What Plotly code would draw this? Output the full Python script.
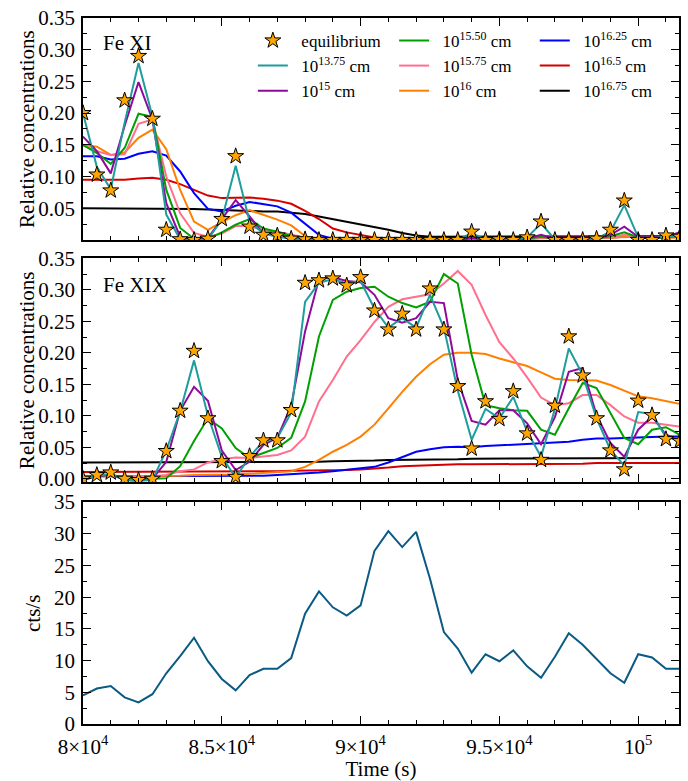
import plotly.graph_objects as go

# Time grid (s)
time_s = list(range(80000, 102000, 500))

# ---- Fe XI relative concentrations ----
fe11_equilibrium = [0.200, 0.103, 0.078, 0.220, 0.290, 0.191, 0.016, 0.001, 0.000, 0.002,
                    0.033, 0.132, 0.021, 0.008, 0.007, 0.002, 0.001, 0.000, 0.000, 0.000,
                    0.000, 0.000, 0.000, 0.000, 0.000, 0.000, 0.000, 0.000, 0.013, 0.000,
                    0.001, 0.000, 0.004, 0.029, 0.000, 0.000, 0.000, 0.002, 0.016, 0.062,
                    0.000, 0.000, 0.007, 0.005]
fe11_13p75 = [0.200, 0.115, 0.080, 0.185, 0.279, 0.195, 0.040, 0.001, 0.000, 0.001,
              0.032, 0.117, 0.029, 0.010, 0.005, 0.002, 0.001, 0.000, 0.000, 0.000,
              0.000, 0.000, 0.000, 0.000, 0.000, 0.000, 0.000, 0.000, 0.011, 0.001,
              0.001, 0.000, 0.004, 0.026, 0.001, 0.000, 0.000, 0.002, 0.013, 0.055,
              0.004, 0.002, 0.006, 0.005]
fe11_15 = [0.163, 0.140, 0.105, 0.180, 0.249, 0.190, 0.058, 0.005, 0.000, 0.003,
           0.033, 0.063, 0.037, 0.010, 0.008, 0.004, 0.002, 0.001, 0.000, 0.000,
           0.000, 0.000, 0.000, 0.000, 0.000, 0.000, 0.000, 0.000, 0.003, 0.001,
           0.001, 0.001, 0.002, 0.008, 0.002, 0.001, 0.001, 0.003, 0.008, 0.021,
           0.005, 0.003, 0.005, 0.012]
fe11_15p50 = [0.150, 0.137, 0.120, 0.145, 0.199, 0.194, 0.079, 0.019, 0.002, 0.002,
              0.012, 0.024, 0.033, 0.018, 0.013, 0.006, 0.003, 0.002, 0.001, 0.001,
              0.001, 0.001, 0.001, 0.001, 0.001, 0.001, 0.001, 0.001, 0.003, 0.001,
              0.001, 0.001, 0.002, 0.005, 0.002, 0.001, 0.001, 0.002, 0.006, 0.012,
              0.004, 0.003, 0.004, 0.006]
fe11_15p75 = [0.149, 0.140, 0.134, 0.135, 0.183, 0.190, 0.100, 0.042, 0.011, 0.005,
              0.010, 0.022, 0.022, 0.015, 0.013, 0.008, 0.004, 0.002, 0.001, 0.001,
              0.001, 0.001, 0.001, 0.001, 0.001, 0.001, 0.001, 0.001, 0.002, 0.001,
              0.001, 0.001, 0.002, 0.004, 0.002, 0.001, 0.001, 0.002, 0.004, 0.008,
              0.004, 0.003, 0.004, 0.005]
fe11_16 = [0.150, 0.147, 0.134, 0.138, 0.161, 0.174, 0.143, 0.079, 0.029, 0.016,
           0.028, 0.039, 0.047, 0.040, 0.032, 0.023, 0.006, 0.001, 0.001, 0.001,
           0.001, 0.001, 0.001, 0.001, 0.001, 0.001, 0.001, 0.001, 0.002, 0.001,
           0.001, 0.001, 0.002, 0.003, 0.002, 0.002, 0.002, 0.002, 0.003, 0.005,
           0.004, 0.003, 0.003, 0.004]
fe11_16p25 = [0.132, 0.132, 0.127, 0.128, 0.136, 0.140, 0.133, 0.108, 0.074, 0.049,
              0.045, 0.054, 0.060, 0.057, 0.053, 0.043, 0.025, 0.008, 0.002, 0.001,
              0.001, 0.001, 0.001, 0.001, 0.001, 0.001, 0.001, 0.001, 0.002, 0.002,
              0.002, 0.002, 0.002, 0.003, 0.003, 0.003, 0.003, 0.003, 0.004, 0.005,
              0.005, 0.005, 0.005, 0.005]
fe11_16p5 = [0.095, 0.095, 0.095, 0.095, 0.097, 0.098, 0.095, 0.088, 0.079, 0.070,
             0.066, 0.066, 0.067, 0.065, 0.062, 0.057, 0.046, 0.033, 0.018, 0.012,
             0.008, 0.004, 0.002, 0.002, 0.002, 0.002, 0.002, 0.002, 0.002, 0.003,
             0.003, 0.003, 0.003, 0.004, 0.004, 0.004, 0.004, 0.004, 0.004, 0.005,
             0.005, 0.005, 0.005, 0.005]
fe11_16p75 = [0.050, 0.050, 0.050, 0.050, 0.050, 0.050, 0.050, 0.049, 0.049, 0.048,
              0.047, 0.046, 0.045, 0.045, 0.045, 0.043, 0.041, 0.037, 0.033, 0.029,
              0.025, 0.021, 0.016, 0.011, 0.007, 0.005, 0.005, 0.005, 0.005, 0.005,
              0.005, 0.005, 0.005, 0.005, 0.005, 0.005, 0.005, 0.005, 0.006, 0.006,
              0.006, 0.006, 0.006, 0.006]

# ---- Fe XIX relative concentrations ----
fe19_equilibrium = [0.000, 0.006, 0.010, 0.000, -0.002, 0.000, 0.044, 0.108, 0.203, 0.096,
                    0.028, 0.003, 0.036, 0.061, 0.061, 0.109, 0.311, 0.315, 0.318, 0.307,
                    0.320, 0.267, 0.237, 0.262, 0.237, 0.302, 0.237, 0.147, 0.048, 0.123,
                    0.095, 0.139, 0.072, 0.030, 0.116, 0.226, 0.164, 0.096, 0.045, 0.015,
                    0.124, 0.101, 0.063, 0.060]
fe19_13p75 = [-0.002, 0.005, 0.008, -0.002, -0.003, -0.002, 0.045, 0.107, 0.188, 0.100,
              0.035, 0.002, 0.035, 0.060, 0.065, 0.105, 0.281, 0.311, 0.317, 0.310,
              0.314, 0.270, 0.240, 0.255, 0.240, 0.292, 0.240, 0.140, 0.062, 0.111,
              0.096, 0.130, 0.075, 0.035, 0.111, 0.207, 0.165, 0.096, 0.046, 0.021,
              0.106, 0.103, 0.066, 0.062]
fe19_15 = [-0.002, 0.004, 0.007, -0.002, -0.003, 0.000, 0.027, 0.108, 0.146, 0.124,
           0.045, 0.014, 0.027, 0.054, 0.065, 0.116, 0.234, 0.317, 0.320, 0.314,
           0.312, 0.292, 0.255, 0.248, 0.255, 0.281, 0.279, 0.157, 0.092, 0.086,
           0.109, 0.109, 0.088, 0.055, 0.098, 0.170, 0.176, 0.101, 0.057, 0.035,
           0.078, 0.099, 0.070, 0.062]
fe19_15p50 = [0.003, 0.005, 0.006, 0.003, 0.000, 0.000, 0.001, 0.020, 0.060, 0.096,
              0.080, 0.049, 0.033, 0.041, 0.049, 0.065, 0.123, 0.226, 0.284, 0.297,
              0.303, 0.305, 0.289, 0.279, 0.272, 0.281, 0.325, 0.310, 0.197, 0.117,
              0.112, 0.109, 0.108, 0.078, 0.070, 0.112, 0.152, 0.144, 0.104, 0.065,
              0.055, 0.078, 0.082, 0.070]
fe19_15p75 = [0.003, 0.004, 0.004, 0.003, 0.003, 0.004, 0.006, 0.012, 0.015, 0.026,
              0.031, 0.034, 0.033, 0.036, 0.038, 0.045, 0.067, 0.123, 0.157, 0.194,
              0.220, 0.249, 0.273, 0.285, 0.289, 0.293, 0.310, 0.330, 0.308, 0.260,
              0.217, 0.191, 0.161, 0.129, 0.117, 0.120, 0.133, 0.133, 0.117, 0.099,
              0.089, 0.089, 0.086, 0.083]
fe19_16 = [0.004, 0.004, 0.004, 0.004, 0.004, 0.005, 0.005, 0.005, 0.006, 0.006,
           0.007, 0.007, 0.008, 0.009, 0.010, 0.012, 0.019, 0.030, 0.043, 0.054,
           0.067, 0.086, 0.112, 0.138, 0.162, 0.182, 0.197, 0.200, 0.200, 0.198,
           0.191, 0.185, 0.179, 0.169, 0.159, 0.157, 0.157, 0.156, 0.149, 0.140,
           0.131, 0.128, 0.124, 0.119]
fe19_16p25 = [0.004, 0.004, 0.004, 0.004, 0.004, 0.004, 0.004, 0.004, 0.004, 0.005,
              0.005, 0.005, 0.005, 0.005, 0.006, 0.007, 0.008, 0.010, 0.012, 0.014,
              0.016, 0.019, 0.026, 0.035, 0.043, 0.047, 0.050, 0.051, 0.050, 0.052,
              0.053, 0.054, 0.055, 0.056, 0.057, 0.059, 0.062, 0.064, 0.064, 0.065,
              0.066, 0.067, 0.067, 0.067]
fe19_16p5 = [0.011, 0.011, 0.011, 0.011, 0.011, 0.011, 0.011, 0.011, 0.011, 0.012,
             0.012, 0.012, 0.012, 0.012, 0.012, 0.013, 0.013, 0.013, 0.014, 0.014,
             0.015, 0.016, 0.018, 0.020, 0.021, 0.022, 0.023, 0.023, 0.023, 0.023,
             0.023, 0.024, 0.024, 0.024, 0.024, 0.024, 0.024, 0.025, 0.025, 0.025,
             0.025, 0.025, 0.025, 0.025]
fe19_16p75 = [0.026, 0.026, 0.026, 0.026, 0.026, 0.026, 0.026, 0.026, 0.026, 0.026,
              0.026, 0.026, 0.026, 0.026, 0.027, 0.027, 0.027, 0.027, 0.028, 0.028,
              0.029, 0.029, 0.030, 0.030, 0.031, 0.031, 0.031, 0.031, 0.032, 0.032,
              0.032, 0.032, 0.032, 0.032, 0.032, 0.032, 0.032, 0.033, 0.033, 0.033,
              0.033, 0.033, 0.033, 0.033]

# ---- X-ray light curve ----
count_rate = [4.5, 5.6, 6.0, 4.2, 3.4, 4.7, 8.0, 10.7, 13.6, 9.9,
              7.1, 5.3, 7.7, 8.7, 8.7, 10.4, 17.4, 20.9, 18.4, 17.1,
              18.7, 27.3, 30.4, 27.9, 30.3, 22.9, 14.5, 11.9, 8.1, 11.0,
              9.9, 11.6, 9.1, 7.3, 10.6, 14.3, 12.5, 10.2, 8.0, 6.5,
              11.0, 10.5, 8.7, 8.7]

# Length-scale runs: (legend label, colour, Fe XI series, Fe XIX series, legend column, rank)
runs = [
    ("10<sup>16.75</sup> cm", "#000000", fe11_16p75, fe19_16p75, "legend3", 3),
    ("10<sup>16.5</sup> cm", "#d40000", fe11_16p5, fe19_16p5, "legend3", 2),
    ("10<sup>16.25</sup> cm", "#0000ff", fe11_16p25, fe19_16p25, "legend3", 1),
    ("10<sup>16</sup> cm", "#ff8000", fe11_16, fe19_16, "legend2", 3),
    ("10<sup>15.75</sup> cm", "#ff6f8e", fe11_15p75, fe19_15p75, "legend2", 2),
    ("10<sup>15.50</sup> cm", "#00a000", fe11_15p50, fe19_15p50, "legend2", 1),
    ("10<sup>15</sup> cm", "#8e0a9c", fe11_15, fe19_15, "legend", 3),
    ("10<sup>13.75</sup> cm", "#1f9c9c", fe11_13p75, fe19_13p75, "legend", 2),
]

SERIF = "Liberation Serif"
PAD = "\u00a0\u00a0"  # small gap between legend sample and its label
fig = go.Figure()

for name, color, top_vals, mid_vals, leg, rank in runs:
    fig.add_trace(go.Scatter(x=time_s, y=top_vals, mode="lines", name=PAD + name,
                             line=dict(color=color, width=2), xaxis="x3", yaxis="y3",
                             legend=leg, legendrank=rank, showlegend=True))
    fig.add_trace(go.Scatter(x=time_s, y=mid_vals, mode="lines", name=name,
                             line=dict(color=color, width=2), xaxis="x2", yaxis="y2",
                             showlegend=False))

star = dict(symbol="star", size=12, color="#ffa500", line=dict(color="black", width=1))
fig.add_trace(go.Scatter(x=time_s, y=fe11_equilibrium, mode="markers", name=PAD + "equilibrium",
                         marker=star, xaxis="x3", yaxis="y3", legend="legend", legendrank=1))
fig.add_trace(go.Scatter(x=time_s, y=fe19_equilibrium, mode="markers", name="equilibrium",
                         marker=star, xaxis="x2", yaxis="y2", showlegend=False))

fig.add_trace(go.Scatter(x=time_s, y=count_rate, mode="lines", showlegend=False,
                         line=dict(color="#0b5a84", width=2), xaxis="x", yaxis="y"))

x_range = [80000, 101470]
tick_font = dict(family=SERIF, size=21, color="black")
minor_ticks = dict(ticks="inside", ticklen=4, tickwidth=1.1, tickcolor="black")
common_x = dict(range=x_range, showline=True, linecolor="black", linewidth=1.5, mirror="allticks",
                ticks="inside", ticklen=8, tickwidth=1.3, tickcolor="black",
                tickvals=[80000, 85000, 90000, 95000, 100000],
                minor=dict(minor_ticks, dtick=1000), automargin=False,
                showgrid=False, zeroline=False, tickfont=tick_font)
common_y = dict(showline=True, linecolor="black", linewidth=1.5, mirror="allticks",
                ticks="inside", ticklen=8, tickwidth=1.3, tickcolor="black", automargin=False,
                showgrid=False, zeroline=False, tickfont=tick_font, ticklabelstandoff=2)

legend_style = dict(orientation="v", xanchor="left", yanchor="top", y=0.993,
                    bgcolor="rgba(0,0,0,0)", tracegroupgap=0,
                    font=dict(family=SERIF, size=17, color="black"))

title_font = dict(family=SERIF, size=21, color="black")

fig.update_layout(
    width=688, height=781,
    margin=dict(l=83, r=9, t=18, b=57),
    paper_bgcolor="white", plot_bgcolor="white",
    font=dict(family=SERIF, size=21, color="black"),
    xaxis=dict(common_x, anchor="y", ticklabelstandoff=3,
               ticktext=["8×10<sup>4</sup>", "8.5×10<sup>4</sup>", "9×10<sup>4</sup>",
                         "9.5×10<sup>4</sup>", "10<sup>5</sup>"],
               title=dict(text="Time (s)", font=title_font, standoff=12)),
    xaxis2=dict(common_x, anchor="y2", matches="x", showticklabels=False),
    xaxis3=dict(common_x, anchor="y3", matches="x", showticklabels=False),
    yaxis=dict(common_y, domain=[0, 0.3144], range=[0, 35], dtick=5,
               minor=dict(minor_ticks, dtick=2.5)),
    yaxis2=dict(common_y, domain=[0.3428, 0.6596], range=[-0.005, 0.35], dtick=0.05,
                tickformat=".2f", minor=dict(minor_ticks, dtick=0.025)),
    yaxis3=dict(common_y, domain=[0.6856, 1.0], range=[0, 0.35],
                tickvals=[0.05, 0.10, 0.15, 0.20, 0.25, 0.30, 0.35], tickformat=".2f",
                minor=dict(minor_ticks, dtick=0.025)),
    legend=dict(legend_style, x=0.285),
    legend2=dict(legend_style, x=0.522),
    legend3=dict(legend_style, x=0.758),
    annotations=[
        dict(text="Fe XI", xref="x3 domain", yref="y3 domain", x=0.03, y=0.887,
             xanchor="left", yanchor="middle", showarrow=False, font=title_font),
        dict(text="Fe XIX", xref="x2 domain", yref="y2 domain", x=0.03, y=0.881,
             xanchor="left", yanchor="middle", showarrow=False, font=title_font),
        # vertical axis titles
        dict(text="Relative concentrations", xref="paper", yref="y3 domain",
             x=-0.094, y=0.5, textangle=-90, showarrow=False, font=title_font,
             xanchor="center", yanchor="middle"),
        dict(text="Relative concentrations", xref="paper", yref="y2 domain",
             x=-0.094, y=0.5, textangle=-90, showarrow=False, font=title_font,
             xanchor="center", yanchor="middle"),
        dict(text="cts/s", xref="paper", yref="y domain",
             x=-0.084, y=0.5, textangle=-90, showarrow=False, font=title_font,
             xanchor="center", yanchor="middle"),
    ],
)

fig.write_html("out.html")
